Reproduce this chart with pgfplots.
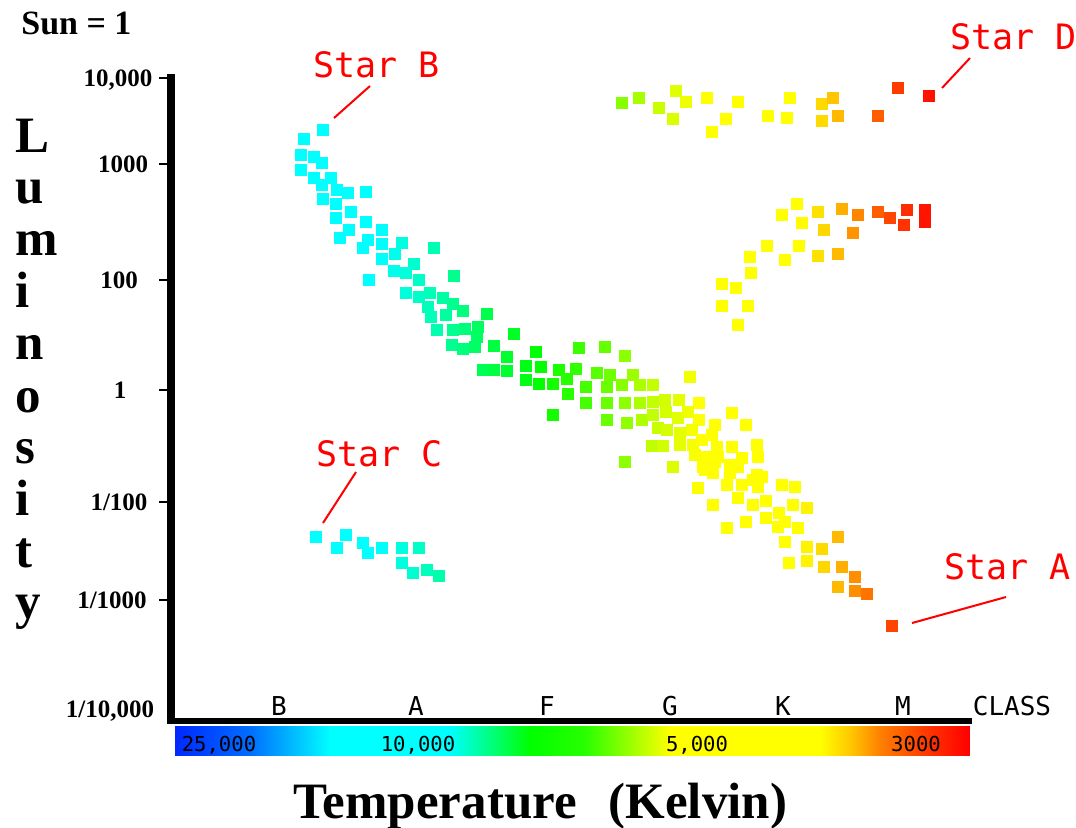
\documentclass[border=0pt]{standalone}
\usepackage{fontspec}
\setmainfont{Liberation Serif}
\newfontfamily\pix{DejaVu Sans Mono}
\usepackage{pgfplots}
\pgfplotsset{compat=1.18}

% colours of the stars, by x position (pixels)
\pgfplotsset{
  colormap={starcol}{
    rgb255(0pt)=(0,255,255) rgb255(380pt)=(0,255,255) rgb255(440pt)=(0,255,170)
    rgb255(490pt)=(0,255,70) rgb255(540pt)=(0,255,0) rgb255(575pt)=(50,255,0)
    rgb255(610pt)=(110,255,0) rgb255(650pt)=(190,255,0) rgb255(700pt)=(255,255,0)
    rgb255(800pt)=(255,255,0) rgb255(830pt)=(255,205,0) rgb255(860pt)=(255,130,0)
    rgb255(890pt)=(255,70,0) rgb255(925pt)=(255,20,0) rgb255(1076pt)=(255,0,0)},
  colormap={barcol}{
    rgb255(0pt)=(0,40,255) rgb255(175pt)=(0,40,255) rgb255(250pt)=(0,110,255)
    rgb255(300pt)=(0,200,255) rgb255(330pt)=(0,255,255) rgb255(450pt)=(0,255,255)
    rgb255(530pt)=(0,255,0) rgb255(585pt)=(40,255,0) rgb255(640pt)=(180,255,0)
    rgb255(670pt)=(255,255,0) rgb255(820pt)=(255,255,0) rgb255(850pt)=(255,200,0)
    rgb255(880pt)=(255,128,0) rgb255(930pt)=(255,50,0) rgb255(969pt)=(255,0,0)
    rgb255(1076pt)=(255,0,0)},
}
\tikzset{
  ticklab/.style={anchor=base, inner sep=0pt, font=\fontsize{12.5pt}{14pt}\selectfont\bfseries},
  title/.style={anchor=base west, inner sep=0pt, font=\fontsize{25.5pt}{30pt}\selectfont\bfseries},
  cls/.style={anchor=base, inner sep=0pt, font=\pix\fontsize{13pt}{15pt}\selectfont},
  temp/.style={anchor=base, inner sep=0pt, font=\pix\fontsize{10.3pt}{12pt}\selectfont},
  callout/.style={anchor=base west, inner sep=0pt, text=red, font=\pix\fontsize{17.5pt}{20pt}\selectfont},
}

\begin{document}
\begin{tikzpicture}
\begin{axis}[
  name=ax,
  width=538pt, height=413.5pt, scale only axis,
  xmin=0, xmax=1076, ymin=0, ymax=827, y dir=reverse,
  hide axis, clip=false,
  point meta min=0, point meta max=1076,
]
% temperature bar
\addplot[surf, shader=interp, colormap name=barcol, point meta=x] coordinates {
  (175,726) (250,726) (300,726) (330,726) (450,726) (530,726) (585,726)
  (640,726) (670,726) (820,726) (850,726) (880,726) (930,726) (969,726)

  (175,755) (250,755) (300,755) (330,755) (450,755) (530,755) (585,755)
  (640,755) (670,755) (820,755) (850,755) (880,755) (930,755) (969,755)
};

% stars
\addplot[scatter, only marks, colormap name=starcol, scatter src=x,
  mark=square*, mark size=2.8pt,
  scatter/use mapped color={draw=mapped color, fill=mapped color}] coordinates {
  % main sequence
  (323,130) (304,139) (301,155) (301,170) (314,157) (322,163) (314,178) (331,178)
  (322,185) (337,190) (348,193) (366,192) (323,199) (336,204) (351,212) (336,218)
  (366,222) (349,230) (340,238) (368,240) (363,248) (382,230) (382,244) (402,243)
  (434,248) (395,254) (382,259) (414,264) (394,271) (406,273) (369,280) (454,276)
  (419,280) (406,293) (419,297) (430,293) (443,298) (453,304) (428,307) (446,315)
  (463,311) (431,317) (487,314) (437,330) (453,330) (465,329) (478,327) (477,337)
  (514,334) (452,345) (475,347) (494,346)
  (463,349) (507,357) (536,352) (579,348) (605,347) (625,356) (483,370) (494,370)
  (507,371) (526,366) (541,367) (559,370) (576,369) (597,373) (526,380) (539,384)
  (553,384) (567,379) (568,394) (586,387) (586,403) (553,415)
  (610,375) (633,375) (690,377) (607,387) (622,385) (640,385) (653,385) (607,403)
  (625,403) (640,403) (653,402) (665,400) (679,400) (699,403) (607,420) (627,423)
  (642,420) (653,415) (666,412) (678,418) (688,412) (699,420) (732,413) (658,428)
  (667,430) (680,433) (692,430) (715,425) (746,425) (652,446) (663,446) (680,445)
  (693,445) (702,440) (712,435) (717,447) (732,447) (757,445) (625,462) (673,467)
  (695,455) (707,457) (718,457) (742,458) (758,457) (703,467) (715,462) (730,465)
  (738,467) (705,470) (713,473) (730,473) (757,475) (762,477) (698,488) (727,485)
  (742,485) (753,480) (758,487) (782,485) (795,487) (738,498) (753,505) (766,501)
  (793,505) (807,508) (713,505) (727,528) (746,522) (766,518) (778,527) (785,522)
  (798,528) (838,537) (785,542) (807,547) (822,549) (789,563) (807,561) (824,567)
  (842,567) (838,587) (855,577) (855,591) (779,513) (867,594)
  % giants
  (797,204) (782,215) (802,223) (818,212) (842,209) (858,215) (878,212) (890,218)
  (907,210) (925,210) (925,222) (904,225) (824,230) (853,233) (767,246) (799,246)
  (750,257) (785,260) (818,256) (838,254) (751,273) (722,284) (736,288) (722,306)
  (748,306) (738,325)
  % supergiants
  (622,103) (639,98) (659,108) (676,91) (686,102) (673,119) (707,98) (726,119)
  (712,132) (738,102) (768,116) (790,98) (787,118) (822,104) (833,98) (822,121)
  (838,116) (878,116) (898,88) (929,96)
  % white dwarfs
  (316,537) (337,548) (346,535) (363,543) (368,553) (382,548) (402,548) (419,548)
  (402,563) (413,573) (427,570) (439,576)
  % star A
  (892,626)
};

% axis lines and ticks
\draw[line width=4pt] (axis cs:171,74) -- (axis cs:171,724);
\draw[line width=3pt] (axis cs:167,721) -- (axis cs:972,721);
\pgfplotsinvokeforeach{78,164,280,390,502,600}{
  \draw[line width=1pt] (axis cs:159,#1) -- (axis cs:171,#1);
}

% luminosity tick labels
\node[ticklab] at (axis cs:118,86) {10,000};
\node[ticklab] at (axis cs:123,172) {1000};
\node[ticklab] at (axis cs:119,288) {100};
\node[ticklab] at (axis cs:120,398) {1};
\node[ticklab] at (axis cs:119,510) {1/100};
\node[ticklab] at (axis cs:112,608) {1/1000};
\node[ticklab] at (axis cs:110,717) {1/10,000};

% axis titles
\node[anchor=base west, inner sep=0pt, font=\fontsize{17pt}{20pt}\selectfont\bfseries] at (axis cs:21,34) {Sun = 1};
\node[title] at (axis cs:15,152) {L};
\node[title] at (axis cs:15,203) {u};
\node[title] at (axis cs:15,255) {m};
\node[title] at (axis cs:15,307) {i};
\node[title] at (axis cs:15,359) {n};
\node[title] at (axis cs:15,412) {o};
\node[title] at (axis cs:15,463) {s};
\node[title] at (axis cs:15,515) {i};
\node[title] at (axis cs:15,567) {t};
\node[title] at (axis cs:15,618) {y};
\node[title] at (axis cs:293,818) {Temperature\hspace{16pt}(Kelvin)};

% spectral classes and temperatures
\node[cls] at (axis cs:279,715) {B};
\node[cls] at (axis cs:416,715) {A};
\node[cls] at (axis cs:547,715) {F};
\node[cls] at (axis cs:670,715) {G};
\node[cls] at (axis cs:783,715) {K};
\node[cls] at (axis cs:903,715) {M};
\node[cls] at (axis cs:1012,715) {CLASS};
\node[temp] at (axis cs:219,751) {25,000};
\node[temp] at (axis cs:418,751) {10,000};
\node[temp] at (axis cs:697,751) {5,000};
\node[temp] at (axis cs:916,751) {3000};

% star callouts
\node[callout] at (axis cs:313,77) {Star B};
\node[callout] at (axis cs:950,49) {Star D};
\node[callout] at (axis cs:316,466) {Star C};
\node[callout] at (axis cs:944,579) {Star A};
\draw[red, line width=1pt] (axis cs:334,118) -- (axis cs:370,86);
\draw[red, line width=1pt] (axis cs:942,88) -- (axis cs:970,58);
\draw[red, line width=1pt] (axis cs:323,523) -- (axis cs:356,472);
\draw[red, line width=1pt] (axis cs:912,623) -- (axis cs:1006,597);
\end{axis}
\pgfresetboundingbox
\path (ax.south west) rectangle (ax.north east);
\end{tikzpicture}
\end{document}
